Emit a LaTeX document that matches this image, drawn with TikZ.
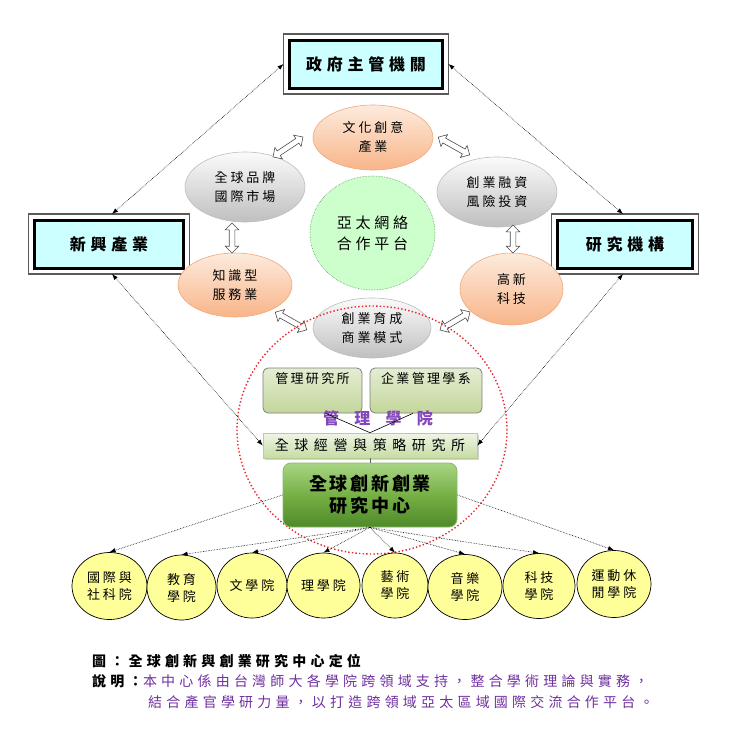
\documentclass[tikz,border=0pt]{standalone}
\usepackage{fontspec}
\setmainfont{Noto Sans CJK TC}
\usetikzlibrary{shapes.geometric,shapes.arrows,arrows.meta,shadows}
\definecolor{boxcyan}{HTML}{CCFFFF}
\definecolor{orgtop}{HTML}{FDEBDD}
\definecolor{orgbot}{HTML}{F8B589}
\definecolor{orgline}{HTML}{F2A77A}
\definecolor{grytop}{HTML}{FBFBFB}
\definecolor{grybot}{HTML}{BFBFBF}
\definecolor{gryline}{HTML}{BDBDBD}
\definecolor{apacfill}{HTML}{CCFFCC}
\definecolor{apacline}{HTML}{5E9E5E}
\definecolor{mgtop}{HTML}{E4EDD3}
\definecolor{mgbot}{HTML}{C3D69B}
\definecolor{mgline}{HTML}{7F7F7F}
\definecolor{gstop}{HTML}{EFF5E6}
\definecolor{gsbot}{HTML}{C6DCA3}
\definecolor{gsline}{HTML}{B7CF92}
\definecolor{ctrtop}{HTML}{A8D584}
\definecolor{ctrmid}{HTML}{76B045}
\definecolor{ctrbot}{HTML}{4E8A29}
\definecolor{ctrline}{HTML}{8DB86A}
\definecolor{collfill}{HTML}{FFFF99}
\definecolor{purp}{HTML}{7030A0}
\definecolor{labpurp}{HTML}{8446BC}
\definecolor{reddot}{HTML}{E8262B}
\newcommand{\fsz}[3]{\fontsize{#1}{#2}\selectfont\addfontfeatures{LetterSpace=#3}}
\begin{document}
\begin{tikzpicture}[x=1pt,y=-1pt,
  sidebox/.style={draw=black, line width=3pt, fill=boxcyan, minimum height=48pt, inner sep=0pt, font=\fsz{16}{19}{30}\bfseries},
  outerframe/.style={draw=black!65, line width=1.2pt},
  orgell/.style={ellipse, draw=orgline, line width=0.6pt, top color=orgtop, bottom color=orgbot, inner sep=0pt, align=center, font=\fsz{13}{19}{22}},
  gryell/.style={ellipse, draw=gryline, line width=0.6pt, top color=grytop, bottom color=grybot, inner sep=0pt, align=center, font=\fsz{13}{19}{22}},
  hollow/.style={double arrow, draw=black!70, fill=white, line width=0.6pt, minimum width=13pt, double arrow head extend=4pt, inner xsep=0pt, inner ysep=2.5pt},
  dotarr/.style={densely dotted, line width=0.6pt, {Latex[length=6pt,width=4.5pt]}-{Latex[length=6pt,width=4.5pt]}},
  fanarr/.style={densely dotted, line width=0.6pt, -{Latex[length=6pt,width=4.5pt]}},
  mgbox/.style={draw=mgline, line width=0.8pt, rounded corners=5pt, top color=mgtop, bottom color=mgbot, minimum height=45pt, text height=12pt, text depth=26pt, inner ysep=3.5pt, inner xsep=0pt, font=\fsz{13}{15}{18}},
  coll/.style={ellipse, draw=black, line width=0.7pt, fill=collfill, inner sep=0pt, align=center, font=\fsz{13}{17}{22}},
  capt/.style={inner sep=0pt, anchor=west, font=\fsz{14}{16}{30}}
]
\useasboundingbox (0,0) rectangle (732,748);

% --- top / side boxes
\node[sidebox, minimum width=153pt] (gov) at (366,64) {政府主管機關};
\node[sidebox, minimum width=149pt] (xin) at (109,244) {新興產業};
\node[sidebox, minimum width=135pt] (res) at (625,244) {研究機構};
\foreach \b in {gov,xin,res}
  \draw[outerframe] ([shift={(-4.5pt,4.5pt)}]\b.north west) rectangle ([shift={(4.5pt,-4.5pt)}]\b.south east);

% --- ring of ellipses
\node[orgell, minimum width=120pt, minimum height=65pt] (cul) at (373,137.5) {文化創意\\產業};
\node[gryell, minimum width=120pt, minimum height=70pt] (brand) at (245,187) {全球品牌\\國際市場};
\node[gryell, minimum width=120pt, minimum height=70pt] (fin) at (497,192) {創業融資\\風險投資};
\node[ellipse, draw=apacline, densely dotted, line width=0.6pt, fill=apacfill, minimum width=125pt, minimum height=114pt, inner sep=0pt, align=center, font=\fsz{15}{21}{25}] (apac) at (372.5,233) {亞太網絡\\合作平台};
\node[orgell, minimum width=114pt, minimum height=64pt] (know) at (235,285) {知識型\\服務業};
\node[orgell, minimum width=103pt, minimum height=72pt] (tech) at (511.5,289) {高新\\科技};
\node[gryell, minimum width=118pt, minimum height=60pt] (incub) at (372,328) {創業育成\\商業模式};

% --- hollow double arrows
\node[hollow, minimum height=36pt, rotate=33.7] (da1) at (288,147) {};
\node[hollow, minimum height=36pt, rotate=-29.4] (da2) at (454,146) {};
\node[hollow, minimum height=30pt, rotate=90] (da3) at (232,238) {};
\node[hollow, minimum height=28pt, rotate=90] (da4) at (513,239) {};
\node[hollow, minimum height=36pt, rotate=-29.4] (da5) at (291,321) {};
\node[hollow, minimum height=35pt, rotate=31] (da6) at (455,321) {};

% --- red dotted ellipse
\draw[reddot, line width=1.4pt, dash pattern=on 1.4pt off 2.2pt] (372,430) ellipse [x radius=135pt, y radius=124pt];

% --- management school
\node[mgbox, minimum width=99pt] (mri) at (312.5,390.5) {管理研究所};
\node[mgbox, minimum width=112pt] (bad) at (426,390.5) {企業管理學系};
\node[inner sep=0pt, text=labpurp, font=\fsz{16}{18}{95}\bfseries] (glab) at (378,418) {管理學院};
\node[draw=gsline, line width=0.6pt, top color=gstop, bottom color=gsbot, minimum width=214pt, minimum height=25pt, inner sep=0pt, font=\fsz{14}{16}{40},
  drop shadow={shadow xshift=2pt, shadow yshift=-2pt, opacity=0.35}] (gs) at (370,445.5) {全球經營與策略研究所};
\draw[line width=0.6pt] (mri.-60) -- (gs.north) -- (bad.-120);
\node[draw=ctrline, line width=0.8pt, rounded corners=8pt, top color=ctrtop, bottom color=ctrbot, middle color=ctrmid, minimum width=174pt, minimum height=64pt, inner sep=0pt, align=center, font=\fsz{18}{22}{15}\bfseries] (ctr) at (370,495) {全球創新創業\\研究中心};
\draw[black!60, line width=0.6pt] (gs.south) -- (ctr.north);

% --- outer dotted arrows
\draw[dotarr] ([xshift=-4.5pt]gov.west) -- ([shift={(3pt,4.5pt)}]xin.north);
\draw[dotarr] ([xshift=4.5pt]gov.east) -- ([shift={(-2pt,4.5pt)}]res.north);
\draw[dotarr] ([shift={(3pt,-4.5pt)}]xin.south) -- (gs.west);
\draw[dotarr] ([shift={(-2pt,-4.5pt)}]res.south) -- (gs.east);

% --- colleges
\node[coll, minimum width=75pt, minimum height=67pt] (c1) at (109.5,586) {國際與\\社科院};
\node[coll, minimum width=69pt, minimum height=65pt] (c2) at (181.5,587.5) {教育\\學院};
\node[coll, minimum width=70pt, minimum height=65pt] (c3) at (252,585.5) {文學院};
\node[coll, minimum width=73pt, minimum height=65pt] (c4) at (323.5,585.5) {理學院};
\node[coll, minimum width=66pt, minimum height=65pt] (c5) at (395,585.5) {藝術\\學院};
\node[coll, minimum width=74pt, minimum height=65pt] (c6) at (465,587) {音樂\\學院};
\node[coll, minimum width=72pt, minimum height=65pt] (c7) at (539,586) {科技\\學院};
\node[coll, minimum width=74pt, minimum height=67pt] (c8) at (614,584) {運動休\\閒學院};

\draw[fanarr] (ctr.west) -- (c1.north);
\foreach \c in {c2,c3,c4,c5,c6,c7}
  \draw[fanarr] (ctr.south) -- (\c.north);
\draw[fanarr] (ctr.east) -- (c8.north);

% --- caption
\node[capt, font=\fsz{14}{16}{30}\bfseries] (cap1) at (92,661) {圖：全球創新與創業研究中心定位};
\node[capt, font=\fsz{14}{16}{30}\bfseries] (cap2l) at (92,681) {說明：};
\node[capt, text=purp] (cap2a) at (cap2l.east) {本中心係由台灣師大各學院跨領域支持，整合學術理論與實務，};
\node[capt, text=purp] (cap2b) at (148,702) {結合產官學研力量，以打造跨領域亞太區域國際交流合作平台。};
\end{tikzpicture}
\end{document}
